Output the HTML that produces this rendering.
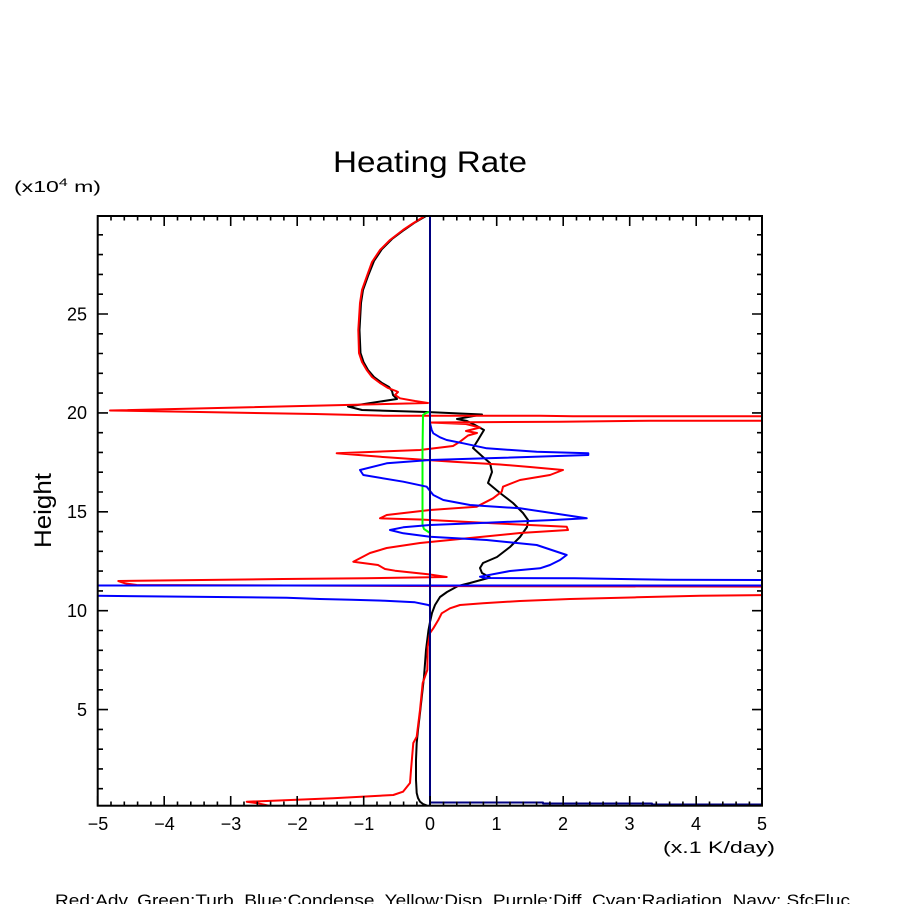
<!DOCTYPE html>
<html>
<head>
<meta charset="utf-8">
<style>
html,body{margin:0;padding:0;background:#fff;}
svg{display:block;}
text{font-family:"Liberation Sans",sans-serif;fill:#000;}
</style>
</head>
<body>
<svg width="904" height="904" viewBox="0 0 904 904" xmlns="http://www.w3.org/2000/svg">
<rect width="904" height="904" fill="#fff"/>
<defs>
<clipPath id="pa"><rect x="97.7" y="216" width="664.3" height="589.7"/></clipPath>
</defs>

<text x="430" y="172" font-size="30" text-anchor="middle" textLength="194" lengthAdjust="spacingAndGlyphs">Heating Rate</text>
<text x="14" y="192" font-size="16" textLength="87" lengthAdjust="spacingAndGlyphs">(x10<tspan dy="-6" font-size="11">4</tspan><tspan dy="6"> m)</tspan></text>

<text transform="translate(51,510.5) rotate(-90)" font-size="24" text-anchor="middle" textLength="75" lengthAdjust="spacingAndGlyphs">Height</text>

<g clip-path="url(#pa)" fill="none" stroke-width="2" stroke-linejoin="round">
<!-- black -->
<polyline stroke="#000" points="426,216 414,223 404,230 392,239 382,249 374,261 368,276 363,290 361,303 359.5,330 360.5,353 363.5,362 368,370 374,377 382,383 389,387 392,391 393,395 397,399 348,406.5 362,410 427,412 482,414.5 457,419 467,421 475,425 484,430 478,440 473,448 483,457 490,463 492,472 488,483 500,493 513,503 523,513 528,520 527,527 520,537 510,547 497,557 483,563 480,568 482,573 490,577.5 470,583 458,586 447,592 440,597 435,605 432,613 430,622 428.5,630 426,650 424,677 422,695 420,713 418,730 416.7,743 416,760 416,780 416.7,793 418,798 420,801.7 423,804 427,805.5"/>
<!-- red -->
<polyline stroke="#f00" points="424,216.5 412,224 403,230 390,240 380,250 372,262 366.7,276.7 362,290 360,303 358.3,330 359,353 362,362 366.7,370 372,377 380,383 388,388 396,391 398,392 395,395 400,398.3 415,401 428,403 110,410.5 200,412 315,414 383,415.7 540,415.7 573,416.3 770,416.3 770,420.7 650,420.7 560,421.7 430,422.5 466,424 480,427.5 466,431 477,433 468,435.5 460,441.7 453,446 420,450 336.7,453.3 386.7,457.3 426.7,460 453,461.7 500,464.5 530,467 563,470 550,475 520,480 503,486.7 501.7,491.7 493,498.3 476.7,506.7 430,510 386.7,515 380,518.3 420,519.5 493,523.3 566.7,526.7 568,530 520,533 470,538 420,543 386.7,548 370,553 353.3,561.7 378,565 385,569 395,570.7 428,574.3 446.7,577 365,578.3 283,579 201.7,580 118.3,581 125,583.3 136.7,585 411.7,586 770,586.7 770,595 700,595.7 636.7,597.3 570,599 520,601 483,603.3 460,605 450,608.3 441.7,613.3 438.3,620 433.3,628.3 430,633 427.7,646.7 427.3,670 422.7,683 420,710 416.7,736.7 413.3,743 411,770 410,783 403,791.7 393.3,795 333,798.3 266.7,801 246.7,801.7 258,803.3 270,806"/>
<!-- green -->
<polyline stroke="#0f0" points="430,411.7 426,413 423,415 422.5,450 422.5,525 424,529 430,533"/>
<!-- blue -->
<polyline stroke="#00f" points="430,420 430,423.3 431.7,430 433.3,433.3 440,437.3 446.7,440 463.3,443.3 486.7,448.3 536.7,451.7 588.3,453.3 588.3,455 486.7,458.3 430,460 386.7,463.3 360,470 363.3,475 403.3,481.7 426.7,486.7 433.3,495 443.3,500 470,505 520,508.3 553.3,513.3 586.7,518.3 553.3,520 486.7,522.7 430,525 403.3,527.3 390,530 403.3,533.3 430,536.7 486.7,540 536.7,545 566.7,555 560,560 550,565 540,568.3 510,571 480,576.7 485,578 575,578.3 669,579.7 770,580 770,585.5 90,585.5 90,595.7 191.7,596.7 286.7,597.7 320,599 351.7,599.7 385,600.7 415,602.3 428.3,605 430,606"/>
<!-- navy -->
<line x1="430" y1="216" x2="430" y2="806" stroke="#000080"/>
<polyline stroke="#000080" points="430,802.5 543,802.5 543,803.5 652,803.5 652,804.5 763,804.5"/>
</g>

<!-- axes box -->
<rect x="97.7" y="216" width="664.3" height="589.7" fill="none" stroke="#000" stroke-width="2"/>

<!-- ticks -->
<g stroke="#000" stroke-width="2" id="ticks">
</g>
<path stroke="#000" stroke-width="1.6" fill="none" d="
M97.7,806v-10 M111,806v-4.5 M124.3,806v-4.5 M137.6,806v-4.5 M150.9,806v-4.5
M164.2,806v-10 M177.5,806v-4.5 M190.8,806v-4.5 M204.1,806v-4.5 M217.4,806v-4.5
M230.7,806v-10 M244,806v-4.5 M257.3,806v-4.5 M270.6,806v-4.5 M283.9,806v-4.5
M297.2,806v-10 M310.5,806v-4.5 M323.8,806v-4.5 M337.1,806v-4.5 M350.4,806v-4.5
M363.7,806v-10 M377,806v-4.5 M390.3,806v-4.5 M403.6,806v-4.5 M416.9,806v-4.5
M430.2,806v-10 M443.5,806v-4.5 M456.8,806v-4.5 M470.1,806v-4.5 M483.4,806v-4.5
M496.7,806v-10 M510,806v-4.5 M523.3,806v-4.5 M536.6,806v-4.5 M549.9,806v-4.5
M563.2,806v-10 M576.5,806v-4.5 M589.8,806v-4.5 M603.1,806v-4.5 M616.4,806v-4.5
M629.7,806v-10 M643,806v-4.5 M656.3,806v-4.5 M669.6,806v-4.5 M682.9,806v-4.5
M696.2,806v-10 M709.5,806v-4.5 M722.8,806v-4.5 M736.1,806v-4.5 M749.4,806v-4.5
M111,216v4.5 M124.3,216v4.5 M137.6,216v4.5 M150.9,216v4.5
M164.2,216v10 M177.5,216v4.5 M190.8,216v4.5 M204.1,216v4.5 M217.4,216v4.5
M230.7,216v10 M244,216v4.5 M257.3,216v4.5 M270.6,216v4.5 M283.9,216v4.5
M297.2,216v10 M310.5,216v4.5 M323.8,216v4.5 M337.1,216v4.5 M350.4,216v4.5
M363.7,216v10 M377,216v4.5 M390.3,216v4.5 M403.6,216v4.5 M416.9,216v4.5
M443.5,216v4.5 M456.8,216v4.5 M470.1,216v4.5 M483.4,216v4.5
M496.7,216v10 M510,216v4.5 M523.3,216v4.5 M536.6,216v4.5 M549.9,216v4.5
M563.2,216v10 M576.5,216v4.5 M589.8,216v4.5 M603.1,216v4.5 M616.4,216v4.5
M629.7,216v10 M643,216v4.5 M656.3,216v4.5 M669.6,216v4.5 M682.9,216v4.5
M696.2,216v10 M709.5,216v4.5 M722.8,216v4.5 M736.1,216v4.5 M749.4,216v4.5
"/>
<path stroke="#000" stroke-width="1.6" fill="none" d="
M98,788.7h5 M98,768.9h5 M98,749.2h5 M98,729.4h5 M98,709.6h10
M98,689.8h5 M98,670h5 M98,650.3h5 M98,630.5h5 M98,610.7h10
M98,590.9h5 M98,571.1h5 M98,551.3h5 M98,531.6h5 M98,511.8h10
M98,492h5 M98,472.2h5 M98,452.4h5 M98,432.7h5 M98,412.9h10
M98,393.1h5 M98,373.3h5 M98,353.5h5 M98,333.8h5 M98,314h10
M98,294.2h5 M98,274.4h5 M98,254.6h5 M98,234.8h5
M762,788.7h-5 M762,768.9h-5 M762,749.2h-5 M762,729.4h-5 M762,709.6h-10
M762,689.8h-5 M762,670h-5 M762,650.3h-5 M762,630.5h-5 M762,610.7h-10
M762,590.9h-5 M762,571.1h-5 M762,551.3h-5 M762,531.6h-5 M762,511.8h-10
M762,492h-5 M762,472.2h-5 M762,452.4h-5 M762,432.7h-5 M762,412.9h-10
M762,393.1h-5 M762,373.3h-5 M762,353.5h-5 M762,333.8h-5 M762,314h-10
M762,294.2h-5 M762,274.4h-5 M762,254.6h-5 M762,234.8h-5
"/>

<!-- y labels -->
<g font-size="18" text-anchor="end">
<text x="87" y="716">5</text>
<text x="87" y="617">10</text>
<text x="87" y="518">15</text>
<text x="87" y="419">20</text>
<text x="87" y="320.5">25</text>
</g>
<!-- x labels -->
<g font-size="18" text-anchor="middle">
<text x="98" y="830">−5</text>
<text x="164.5" y="830">−4</text>
<text x="231" y="830">−3</text>
<text x="297.5" y="830">−2</text>
<text x="364" y="830">−1</text>
<text x="430" y="830">0</text>
<text x="496.5" y="830">1</text>
<text x="563" y="830">2</text>
<text x="629.5" y="830">3</text>
<text x="696" y="830">4</text>
<text x="762" y="830">5</text>
</g>
<text x="663" y="853" font-size="17" textLength="112" lengthAdjust="spacingAndGlyphs">(x.1 K/day)</text>
<text x="55" y="906" font-size="17" textLength="795" lengthAdjust="spacingAndGlyphs">Red:Adv, Green:Turb, Blue:Condense, Yellow:Disp, Purple:Diff, Cyan:Radiation, Navy: SfcFluc</text>
</svg>
</body>
</html>
